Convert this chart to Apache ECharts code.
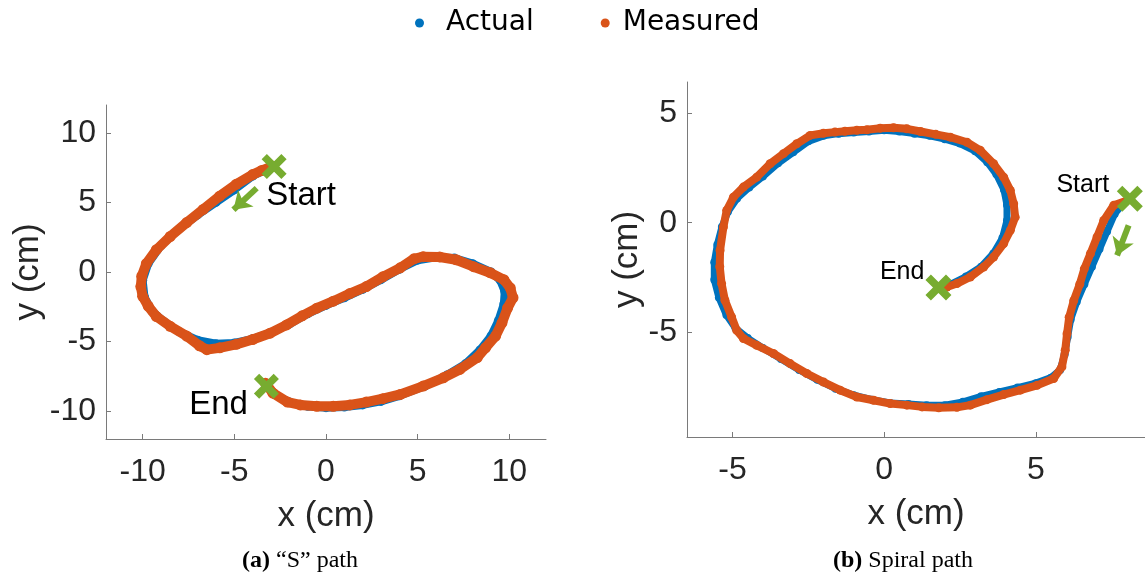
<!DOCTYPE html>
<html>
<head>
<meta charset="utf-8">
<title>Actual vs measured paths</title>
<script src="https://cdn.jsdelivr.net/npm/echarts@6/dist/echarts.min.js"></script>
<style>
  html, body { margin: 0; padding: 0; background: #fff; }
  #chart { width: 1145px; height: 577px; }
</style>
</head>
<body>
<div id="chart"></div>
<script>
// (a) "S" path, points in cm, start -> end
const sActual = [
  [-3.0, 7.5], [-4.0, 6.9], [-5.0, 5.9], [-6.0, 5.0], [-7.0, 4.1], [-8.0, 3.1], [-9.0, 1.9],
  [-9.7, 0.6], [-10.0, -0.6], [-9.9, -1.8], [-9.5, -2.8], [-8.8, -3.6], [-8.0, -4.3], [-7.0, -4.9],
  [-6.0, -5.15], [-5.0, -5.1], [-4.0, -4.8], [-3.0, -4.35], [-2.0, -3.75], [-1.0, -3.0], [0.0, -2.4],
  [1.0, -1.85], [2.0, -1.25], [3.0, -0.55], [4.0, 0.2], [5.0, 0.85], [6.0, 1.05], [7.0, 1.0],
  [8.0, 0.6], [9.0, 0.0], [9.5, -0.6], [9.75, -1.4], [9.7, -2.3], [9.4, -3.5], [9.0, -4.6],
  [8.4, -5.6], [7.6, -6.6], [6.6, -7.4], [5.4, -8.2], [4.0, -8.9], [3.0, -9.3], [2.0, -9.55],
  [1.0, -9.7], [0.0, -9.75], [-1.0, -9.65], [-2.0, -9.35], [-2.8, -8.8], [-3.3, -8.1]
]
const sMeasured = [
  [-2.9, 7.6], [-3.5, 7.3], [-4.0, 7.0], [-4.9, 6.3], [-5.8, 5.45], [-6.7, 4.5], [-7.6, 3.55],
  [-8.5, 2.55], [-9.25, 1.6], [-9.8, 0.6], [-10.05, -0.3], [-10.1, -1.05], [-10.0, -1.75],
  [-9.7, -2.45], [-9.25, -3.2], [-8.5, -3.9], [-7.6, -4.6], [-6.9, -5.3], [-6.5, -5.58],
  [-5.8, -5.45], [-4.9, -5.2], [-4.0, -4.85], [-3.05, -4.4], [-2.15, -3.8], [-1.3, -3.15],
  [-0.5, -2.6], [0.4, -2.1], [1.3, -1.55], [2.2, -1.05], [3.1, -0.35], [4.05, 0.3], [4.8, 0.95],
  [5.3, 1.1], [6.2, 1.08], [7.1, 0.88], [8.05, 0.38], [8.95, -0.05], [9.7, -0.55], [10.05, -1.15],
  [10.2, -1.85], [9.9, -2.6], [9.6, -3.65], [9.25, -4.6], [8.7, -5.45], [8.25, -6.15], [7.3, -7.0],
  [6.4, -7.6], [5.3, -8.2], [4.05, -8.8], [3.1, -9.1], [2.2, -9.35], [1.3, -9.55], [0.4, -9.65],
  [-0.5, -9.65], [-1.4, -9.55], [-2.1, -9.35], [-2.9, -8.7], [-3.3, -8.0]
]

// (b) spiral path
const spiralActual = [
  [7.9, 0.9], [7.6, 0.4], [7.35, -0.4], [7.1, -1.2], [6.85, -2.0], [6.6, -2.8], [6.35, -3.6],
  [6.15, -4.4], [6.05, -5.2], [5.95, -6.0], [5.8, -6.7], [5.5, -7.05], [5.0, -7.3], [4.4, -7.5],
  [3.8, -7.7], [3.2, -7.9], [2.6, -8.15], [2.0, -8.3], [1.4, -8.3], [0.8, -8.25], [0.2, -8.2],
  [-0.4, -8.05], [-1.0, -7.85], [-1.6, -7.55], [-2.2, -7.15], [-2.8, -6.7], [-3.4, -6.2],
  [-4.0, -5.7], [-4.5, -5.25], [-4.9, -4.8], [-5.2, -4.2], [-5.45, -3.4], [-5.6, -2.6],
  [-5.6, -1.8], [-5.5, -1.0], [-5.35, -0.2], [-5.15, 0.5], [-4.85, 1.1], [-4.45, 1.6],
  [-4.0, 2.1], [-3.5, 2.7], [-3.0, 3.2], [-2.5, 3.7], [-2.0, 3.95], [-1.5, 4.05], [-1.0, 4.1],
  [-0.5, 4.15], [0.0, 4.2], [0.5, 4.15], [1.0, 4.05], [1.5, 3.95], [2.0, 3.8], [2.5, 3.6],
  [3.0, 3.25], [3.4, 2.75], [3.7, 2.2], [3.95, 1.5], [4.05, 0.8], [4.05, 0.1], [3.9, -0.7],
  [3.6, -1.4], [3.2, -2.0], [2.7, -2.45], [2.2, -2.8], [1.8, -2.95]
]
const spiralMeasured = [
  [8.1, 1.05], [7.57, 0.79], [7.24, 0.1], [7.02, -0.65], [6.8, -1.41], [6.6, -2.1], [6.45, -2.8],
  [6.25, -3.55], [6.1, -4.3], [6.03, -5.05], [5.97, -5.8], [5.86, -6.56], [5.59, -7.09],
  [5.04, -7.4], [4.49, -7.62], [3.94, -7.82], [3.39, -8.05], [2.84, -8.3], [2.4, -8.4],
  [1.8, -8.42], [1.25, -8.38], [0.75, -8.3], [0.2, -8.23], [-0.35, -8.08], [-0.9, -7.93],
  [-1.45, -7.62], [-2.0, -7.25], [-2.55, -6.86], [-3.1, -6.41], [-3.65, -5.95], [-4.2, -5.58],
  [-4.64, -5.27], [-4.86, -4.9], [-5.03, -4.29], [-5.25, -3.53], [-5.36, -2.77], [-5.42, -2.0],
  [-5.41, -1.26], [-5.3, -0.2], [-5.19, 0.56], [-4.97, 1.16], [-4.64, 1.62], [-4.2, 2.07],
  [-3.76, 2.68], [-3.32, 3.14], [-2.88, 3.59], [-2.44, 3.97], [-2.0, 4.07], [-1.62, 4.12],
  [-1.29, 4.16], [-0.9, 4.2], [-0.57, 4.23], [-0.13, 4.3], [0.31, 4.32], [0.75, 4.27],
  [1.2, 4.15], [1.7, 4.02], [2.18, 3.89], [2.73, 3.66], [3.17, 3.29], [3.61, 2.68], [3.94, 2.07],
  [4.16, 1.47], [4.27, 0.86], [4.32, 0.25], [4.16, -0.35], [3.94, -0.95], [3.61, -1.56],
  [3.28, -2.02], [2.84, -2.47], [2.4, -2.77], [2.07, -2.93], [1.8, -2.95]
]

const sTicks = [-10, -5, 0, 5, 10]
const spiralXTicks = [-5, 0, 5]
const spiralYTicks = [-5, 0, 5]

// start/end crosses, direction arrows and their texts
const sMarks = [[-2.83, 7.58], [-3.25, -8.21]]
const spiralMarks = [[8.1, 1.09], [1.79, -2.95]]
const sArrow = [[-3.78, 6.03], [-5.05, 4.47]]
const spiralArrow = [[8.06, -0.12], [7.68, -1.49]]
const sLabels = [["Start", -1.36, 5.48], ["End", -5.86, -9.56]]
const spiralLabels = [["Start", 6.55, 1.72], ["End", 0.594, -2.24]]

const BLUE = "#0072BD"
const ORANGE = "#D95319"
const GREEN = "#77AC30"
const AXIS = "#7a7a7a"
const TEXT = "#262626"
const SANS = "Liberation Sans, Arial, sans-serif"
const SERIF = "Liberation Serif, Times New Roman, serif"
const CROSS = "path://M2.1,0 L5,2.9 L7.9,0 L10,2.1 L7.1,5 L10,7.9 L7.9,10 L5,7.1 L2.1,10 L0,7.9 L2.9,5 L0,2.1 Z"

function axis(i, min, max, ticks, name, nameGap, vertical) {
  return {
    type: "value",
    gridIndex: i,
    min: min,
    max: max,
    name: name,
    nameLocation: "middle",
    nameGap: nameGap,
    nameTextStyle: { fontSize: 35, fontFamily: SANS, color: TEXT },
    axisLine: { show: true, onZero: false, lineStyle: { color: AXIS, width: 1 } },
    axisTick: { show: true, inside: true, length: 5, customValues: ticks, lineStyle: { color: AXIS } },
    axisLabel: { customValues: ticks, fontSize: 32, fontFamily: SANS, color: TEXT, margin: vertical ? 10 : 17 },
    splitLine: { show: false },
  }
}

function path(name, data, color, size, i, z) {
  return {
    name: name,
    type: "line",
    xAxisIndex: i,
    yAxisIndex: i,
    data: data,
    symbol: "circle",
    symbolSize: size,
    showSymbol: true,
    lineStyle: { color: color, width: size - 1 },
    itemStyle: { color: color },
    emphasis: { disabled: true },
    z: z,
  }
}

function marks(data, i, size) {
  return {
    type: "scatter",
    xAxisIndex: i,
    yAxisIndex: i,
    data: data,
    symbol: CROSS,
    symbolSize: size,
    itemStyle: { color: GREEN, opacity: 1 },
    emphasis: { disabled: true },
    z: 5,
  }
}

function arrow(coords, i) {
  return {
    type: "lines",
    coordinateSystem: "cartesian2d",
    xAxisIndex: i,
    yAxisIndex: i,
    data: [{ coords: coords }],
    symbol: ["none", "arrow"],
    symbolSize: 17,
    lineStyle: { color: GREEN, width: 6, opacity: 1 },
    z: 5,
  }
}

function texts(list, i, size) {
  return {
    type: "scatter",
    xAxisIndex: i,
    yAxisIndex: i,
    data: list.map((d) => ({ name: d[0], value: [d[1], d[2]] })),
    symbolSize: 1,
    itemStyle: { color: "rgba(0,0,0,0)", opacity: 1 },
    label: { show: true, position: "inside", formatter: "{b}", fontSize: size, fontFamily: SANS, color: "#000", opacity: 1 },
    emphasis: { disabled: true },
    z: 6,
  }
}

function caption(x, tag, rest) {
  return {
    type: "text", x: x, y: 561,
    style: {
      text: "{b|" + tag + "}{r|" + rest + "}", align: "center", verticalAlign: "middle",
      rich: {
        b: { fontWeight: "bold", fontSize: 24, fontFamily: SERIF, fill: "#000" },
        r: { fontSize: 24, fontFamily: SERIF, fill: "#000" },
      },
    },
  }
}

let myChart = echarts.init(document.getElementById("chart"))
myChart.setOption({
  animation: false,
  legend: {
    data: [
      { name: "Actual", textStyle: { padding: [0, 0, 0, 17] } },
      { name: "Measured", textStyle: { padding: [0, 0, 0, 8] } },
    ],
    icon: "circle",
    itemWidth: 9,
    itemHeight: 9,
    itemGap: 67,
    left: 410,
    top: 4,
    textStyle: { fontFamily: "DejaVu Sans", fontSize: 28, color: "#000" },
  },
  grid: [
    { left: 106, top: 105, width: 440, height: 334 },
    { left: 687, top: 82, width: 458, height: 355 },
  ],
  xAxis: [
    axis(0, -12, 12, sTicks, "x (cm)", 60, false),
    axis(1, -6.5, 8.6, spiralXTicks, "x (cm)", 60, false),
  ],
  yAxis: [
    axis(0, -12, 12, sTicks, "y (cm)", 58, true),
    axis(1, -9.75, 6.4, spiralYTicks, "y (cm)", 37, true),
  ],
  series: [
    path("Actual", sActual, BLUE, 9, 0, 2),
    path("Measured", sMeasured, ORANGE, 11, 0, 3),
    path("Actual", spiralActual, BLUE, 8, 1, 2),
    path("Measured", spiralMeasured, ORANGE, 9, 1, 3),
    marks(sMarks, 0, 25),
    marks(spiralMarks, 1, 26),
    arrow(sArrow, 0),
    arrow(spiralArrow, 1),
    texts(sLabels, 0, 33),
    texts(spiralLabels, 1, 25),
  ],
  graphic: [
    caption(300, "(a)", " “S” path"),
    caption(903, "(b)", " Spiral path"),
  ],
})
</script>
</body>
</html>
